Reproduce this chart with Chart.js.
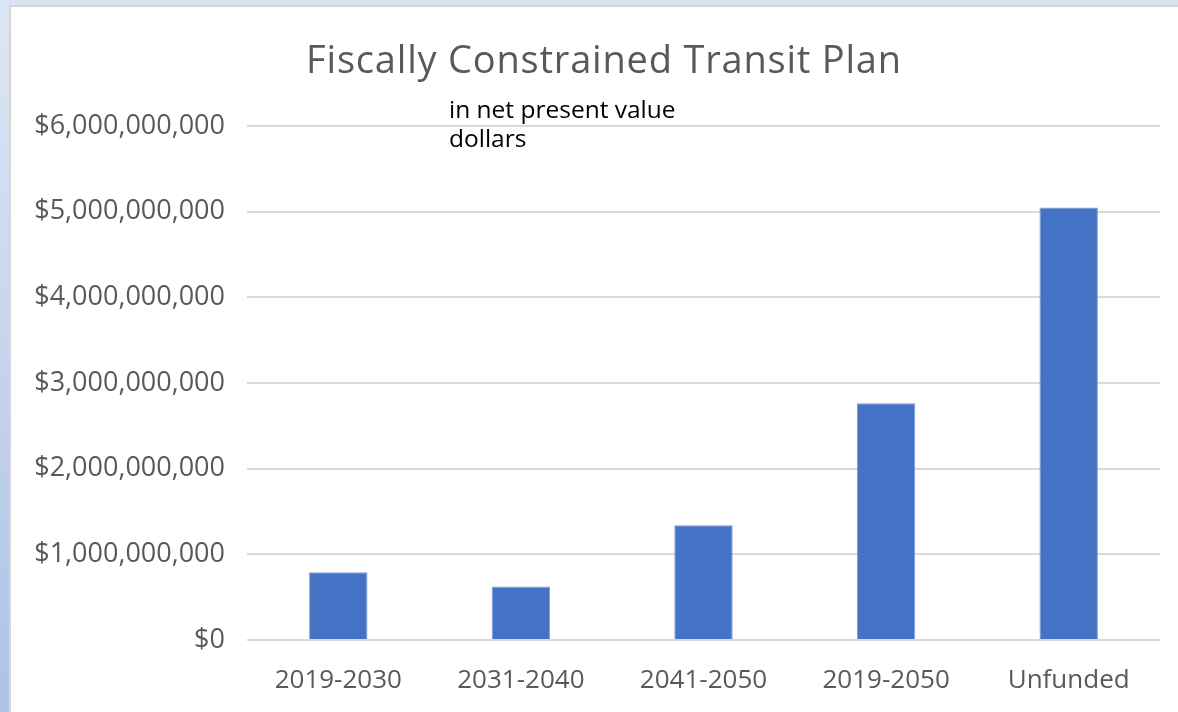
<!DOCTYPE html>
<html lang="en">
<head>
    <meta charset="UTF-8">
    <title>Fiscally Constrained Transit Plan</title>
    <script src="https://cdn.jsdelivr.net/npm/chart.js"></script>
    <style>
        html, body {
            margin: 0;
            padding: 0;
            width: 1178px;
            height: 712px;
            overflow: hidden;
            background: #dae3f3;
        }
        .leftstrip {
            position: absolute;
            left: 0; top: 0;
            width: 9px; height: 712px;
            background: linear-gradient(to bottom, #dde6f4, #aec2e5);
        }
        .sheet {
            position: absolute;
            left: 9px; top: 5px;
            right: 0; bottom: 0;
            background: white;
            border-left: 2px solid #d6d6d6;
            border-top: 2px solid #d6d6d6;
        }
        canvas {
            position: absolute;
            left: 0; top: 0;
        }
    </style>
</head>
<body>
    <div class="leftstrip"></div>
    <div class="sheet"></div>
    <canvas id="chart" width="1178" height="712"></canvas>

    <script>
        const categories = ['2019-2030', '2031-2040', '2041-2050', '2019-2050', 'Unfunded'];
        const costs = [790000000, 625000000, 1340000000, 2765000000, 5050000000];
        const yTicks = [0, 1000000000, 2000000000, 3000000000, 4000000000, 5000000000, 6000000000];
        const chartTitle = 'Fiscally Constrained Transit Plan';
        const noteLines = ['in net present value', 'dollars'];

        // title + the little text box sitting on the plot
        const textPlugin = {
            id: 'texts',
            afterDraw(chart) {
                const ctx = chart.ctx;
                ctx.save();
                ctx.fillStyle = '#595959';
                ctx.font = '38px "Open Sans"';
                ctx.letterSpacing = '0.8px';
                ctx.textAlign = 'center';
                ctx.textBaseline = 'alphabetic';
                ctx.fillText(chartTitle, 604, 73);

                ctx.letterSpacing = '0px';
                ctx.fillStyle = '#000';
                ctx.font = '24.5px "Open Sans"';
                ctx.textAlign = 'left';
                noteLines.forEach((t, i) => ctx.fillText(t, 449, 118 + i * 29));
                ctx.restore();
            }
        };

        const money = v => '$' + v.toLocaleString('en-US');

        new Chart(document.getElementById('chart'), {
            type: 'bar',
            data: {
                labels: categories,
                datasets: [{
                    data: costs,
                    backgroundColor: '#4472c4',
                    borderColor: '#7c9bd6',
                    borderWidth: 1,
                    categoryPercentage: 1,
                    barPercentage: 0.32
                }]
            },
            options: {
                responsive: false,
                animation: false,
                layout: { padding: { left: 20, right: 18, top: 126, bottom: 0 } },
                plugins: {
                    legend: { display: false },
                    tooltip: { enabled: false },
                    title: { display: false }
                },
                scales: {
                    x: {
                        grid: { display: false },
                        border: { display: false },
                        ticks: {
                            color: '#595959',
                            font: { family: 'Open Sans', size: 26 },
                            padding: 17,
                            maxRotation: 0
                        },
                        afterFit(scale) { scale.height = 72; }
                    },
                    y: {
                        min: 0,
                        max: 6000000000,
                        afterBuildTicks(scale) { scale.ticks = yTicks.map(v => ({ value: v })); },
                        grid: { color: '#d9d9d9', lineWidth: 2, drawTicks: false },
                        border: { display: false },
                        ticks: {
                            color: '#595959',
                            font: { family: 'Open Sans', size: 27 },
                            padding: 22,
                            callback: v => money(v)
                        },
                        afterFit(scale) { scale.width = 227; }
                    }
                }
            },
            plugins: [textPlugin]
        });
    </script>
</body>
</html>
